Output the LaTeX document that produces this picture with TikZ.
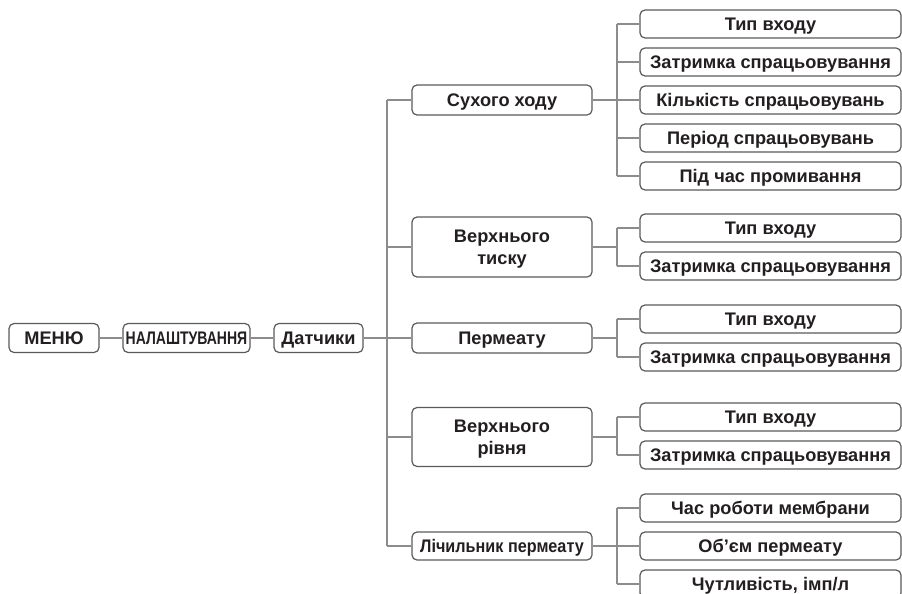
\documentclass[tikz,border=0pt]{standalone}
\usepackage{fontspec}
\setmainfont{Liberation Sans}
\usetikzlibrary{calc}

\definecolor{boxgray}{HTML}{5A5A5A}
\definecolor{linegray}{HTML}{8C8C8C}
\definecolor{textdark}{HTML}{231F20}

\newcommand{\squeeze}[2]{\scalebox{#1}[1]{#2}}

\tikzset{
  box/.style={draw=boxgray, line width=1.2pt, rounded corners=5pt, fill=white, text=textdark, inner sep=0pt, align=center, text height=12.9pt, text depth=0pt, font=\bfseries\fontsize{18.2}{22}\selectfont},
  twoline/.style={text height=34.9pt},
  leaf/.style={box, minimum width=261pt, minimum height=28pt},
  group/.style={box, minimum width=180pt, minimum height=30pt},
  link/.style={draw=linegray, line width=1.2pt}
}

\begin{document}
\begin{tikzpicture}[x=1pt,y=-1pt]
    \useasboundingbox (0,0) rectangle (902,594);

    % main chain
    \node[box, minimum width=90pt, minimum height=29pt] (menu) at (54,338) {МЕНЮ};
    \node[box, minimum width=127pt, minimum height=29pt] (setup) at (186.5,338) {\squeeze{0.77}{НАЛАШТУВАННЯ}};
    \node[box, minimum width=89pt, minimum height=29pt] (sensors) at (318.5,338) {Датчики};
    \draw[link] (menu) -- (setup); \draw[link] (setup) -- (sensors);

    % sensor groups
    \node[group] (dry) at (502,100) {Сухого ходу};
    \node[group, twoline, minimum height=60pt] (press) at (502,247) {Верхнього\\тиску};
    \node[group] (perm) at (502,338) {Пермеату};
    \node[group, twoline, minimum height=59pt] (level) at (502,437) {Верхнього\\рівня};
    \node[group, minimum height=28pt] (meter) at (502,546) {\squeeze{0.89}{Лічильник пермеату}};

    \coordinate (trunk) at (387,338);
    \draw[link] (sensors.east) -- (trunk);
    \draw[link] (trunk |- dry.west) -- (trunk |- meter.west);
    \foreach \g in {dry,press,perm,level,meter} {
        \draw[link] (trunk |- \g.west) -- (\g.west);
    }

    % settings of each group
    \coordinate (sub) at (617,0);
    \foreach \t [count=\i] in {Тип входу, Затримка спрацьовування, Кількість спрацьовувань, Період спрацьовувань, Під час промивання} {
        \node[leaf] (dry\i) at (770.5,{24+38*(\i-1)}) {\t};
        \draw[link] (sub |- dry\i.west) -- (dry\i.west);
    }
    \draw[link] (sub |- dry1.west) -- (sub |- dry5.west);
    \draw[link] (dry.east) -- (sub |- dry.east);

    \foreach \g/\y in {press/228, perm/319, level/417} {
        \node[leaf] (\g1) at (770.5,\y) {Тип входу};
        \node[leaf] (\g2) at (770.5,\y+38) {Затримка спрацьовування};
        \draw[link] (\g.east) -- (sub |- \g.east);
        \draw[link] (sub |- \g1.west) -- (\g1.west);
        \draw[link] (sub |- \g2.west) -- (\g2.west);
        \draw[link] (sub |- \g1.west) -- (sub |- \g2.west);
    }

    \foreach \t [count=\i] in {Час роботи мембрани, Об’єм пермеату, {Чутливість, імп/л}} {
        \node[leaf] (meter\i) at (770.5,{508+38*(\i-1)}) {\t};
        \draw[link] (sub |- meter\i.west) -- (meter\i.west);
    }
    \draw[link] (sub |- meter1.west) -- (sub |- meter3.west);
    \draw[link] (meter.east) -- (sub |- meter.east);
\end{tikzpicture}
\end{document}
